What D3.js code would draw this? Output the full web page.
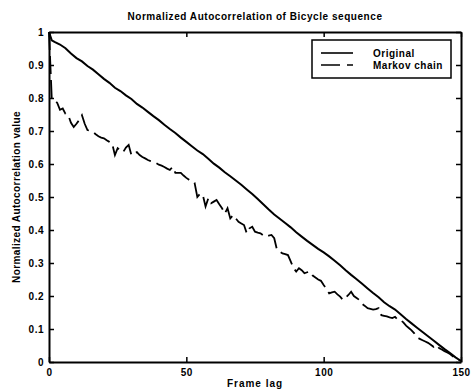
<!DOCTYPE html>
<html lang="en">
<head>
    <meta charset="UTF-8">
    <title>Normalized Autocorrelation of Bicycle sequence</title>
    <script src="https://cdn.jsdelivr.net/npm/d3@7/dist/d3.min.js"></script>
    <style>
        body{
            margin: 0;
            background: #fff;
        }
        text{
            font-family: "Liberation Sans", Arial, sans-serif;
            font-weight: bold;
        }
    </style>
</head>
<body>
<svg id="main" width="473" height="392"></svg>
<script>

    // lag values and autocorrelation
    const lagOriginal = [0, 1, 2, 4, 6, 8, 10, 12, 14, 16, 18, 20, 22, 24, 26, 28, 30, 32, 34, 36, 38,
        40, 42, 44, 46, 48, 50, 52, 54, 56, 58, 60, 62, 64, 66, 68, 70, 72, 74, 76, 78,
        80, 82, 84, 86, 88, 90, 92, 94, 96, 98, 100, 102, 104, 106, 108, 110, 112, 114, 116, 118,
        120, 122, 124, 126, 128, 130, 132, 134, 136, 138, 140, 142, 144, 146, 148, 150];
    const original = [1.000, 0.975, 0.970, 0.962, 0.951, 0.935, 0.921, 0.911, 0.897, 0.886, 0.872,
        0.858, 0.846, 0.831, 0.821, 0.808, 0.797, 0.782, 0.771, 0.758, 0.745,
        0.733, 0.719, 0.706, 0.694, 0.680, 0.667, 0.654, 0.641, 0.630, 0.616,
        0.601, 0.589, 0.575, 0.563, 0.550, 0.537, 0.523, 0.509, 0.494, 0.478,
        0.462, 0.447, 0.434, 0.421, 0.408, 0.393, 0.380, 0.367, 0.355, 0.343,
        0.332, 0.320, 0.307, 0.293, 0.278, 0.264, 0.251, 0.237, 0.223, 0.209,
        0.196, 0.181, 0.169, 0.159, 0.145, 0.130, 0.117, 0.104, 0.091, 0.078,
        0.065, 0.052, 0.039, 0.027, 0.014, 0.003];

    const lagMarkov = d3.range(0, 151);   // one value per frame lag
    const markov = [1.000, 0.800, 0.794, 0.785, 0.764, 0.768, 0.752, 0.748, 0.725, 0.712,
        0.722, 0.733, 0.748, 0.722, 0.703, 0.700, 0.697, 0.690, 0.684, 0.680,
        0.678, 0.672, 0.667, 0.662, 0.627, 0.648, 0.641, 0.636, 0.650, 0.658,
        0.627, 0.632, 0.636, 0.627, 0.621, 0.617, 0.612, 0.609, 0.606, 0.603,
        0.598, 0.595, 0.591, 0.586, 0.582, 0.591, 0.573, 0.573, 0.573, 0.565,
        0.558, 0.552, 0.547, 0.543, 0.500, 0.510, 0.506, 0.471, 0.496, 0.481,
        0.486, 0.491, 0.478, 0.466, 0.450, 0.466, 0.435, 0.445, 0.435, 0.425,
        0.420, 0.415, 0.390, 0.405, 0.410, 0.395, 0.392, 0.390, 0.384, 0.380,
        0.383, 0.385, 0.375, 0.340, 0.335, 0.329, 0.327, 0.324, 0.305, 0.285,
        0.274, 0.284, 0.278, 0.269, 0.272, 0.274, 0.262, 0.256, 0.250, 0.246,
        0.233, 0.222, 0.208, 0.211, 0.213, 0.205, 0.198, 0.188, 0.195, 0.203,
        0.213, 0.200, 0.194, 0.188, 0.176, 0.170, 0.163, 0.161, 0.159, 0.160,
        0.163, 0.142, 0.140, 0.138, 0.135, 0.133, 0.137, 0.128, 0.127, 0.120,
        0.110, 0.103, 0.096, 0.087, 0.075, 0.070, 0.066, 0.062, 0.058, 0.052,
        0.046, 0.052, 0.042, 0.038, 0.033, 0.029, 0.024, 0.017, 0.012, 0.008,
        0.003];

    const xTicks = [0, 50, 100, 150];
    const yTicks = [0, 0.1, 0.2, 0.3, 0.4, 0.5, 0.6, 0.7, 0.8, 0.9, 1];
    const seriesNames = ['Original', 'Markov chain'];

    const margin = {top: 32, right: 12, bottom: 30, left: 49};
    const width = 473, height = 392;

    const svg = d3.select('svg#main');

    const x = d3.scaleLinear().domain([0, 150]).range([margin.left, width - margin.right]);
    const y = d3.scaleLinear().domain([0, 1]).range([height - margin.bottom, margin.top]);

    // axes, ticks pointing inward like matlab
    const fmt = d3.format('~g');
    svg.append('g')
        .attr('transform', `translate(0,${y(0)})`)
        .call(d3.axisBottom(x).tickValues(xTicks).tickSizeInner(-5).tickSizeOuter(0).tickPadding(7).tickFormat(fmt));
    svg.append('g')
        .attr('transform', `translate(${x(0)},0)`)
        .call(d3.axisLeft(y).tickValues(yTicks).tickSizeInner(-5).tickSizeOuter(0).tickPadding(5).tickFormat(fmt));
    svg.append('g')
        .attr('transform', `translate(0,${y(1)})`)
        .call(d3.axisTop(x).tickValues(xTicks).tickSizeInner(-5).tickSizeOuter(0).tickFormat(''));
    svg.append('g')
        .attr('transform', `translate(${x(150)},0)`)
        .call(d3.axisRight(y).tickValues(yTicks).tickSizeInner(-5).tickSizeOuter(0).tickFormat(''));

    svg.selectAll('.domain').attr('stroke', '#000').attr('stroke-width', 2);
    svg.selectAll('.tick line').attr('stroke', '#000').attr('stroke-width', 1.5);
    svg.selectAll('.tick text').attr('fill', '#000').attr('font-size', 10)
        .attr('letter-spacing', 0.5)
        .attr('font-weight', 'bold').attr('font-family', '"Liberation Sans", Arial, sans-serif');

    // lines
    const line = d3.line()
        .x(d => x(d[0]))
        .y(d => y(d[1]));

    svg.append('path')
        .datum(lagOriginal.map((l, i) => [l, original[i]]))
        .attr('fill', 'none')
        .attr('stroke', '#000')
        .attr('stroke-width', 2)
        .attr('d', line);

    svg.append('path')
        .datum(lagMarkov.map((l, i) => [l, markov[i]]))
        .attr('fill', 'none')
        .attr('stroke', '#000')
        .attr('stroke-width', 1.8)
        .attr('stroke-dasharray', '18,6')
        .attr('d', line);

    // title and labels
    svg.append('text')
        .attr('x', (x(0) + x(150)) / 2)
        .attr('y', 20)
        .attr('text-anchor', 'middle')
        .attr('font-size', 10)
        .attr('letter-spacing', 0.55)
        .text('Normalized Autocorrelation of Bicycle sequence');

    svg.append('text')
        .attr('x', (x(0) + x(150)) / 2)
        .attr('y', 387)
        .attr('text-anchor', 'middle')
        .attr('font-size', 10)
        .attr('letter-spacing', 1)
        .text('Frame lag');

    svg.append('text')
        .attr('transform', `translate(20,${(y(0) + y(1)) / 2}) rotate(-90)`)
        .attr('text-anchor', 'middle')
        .attr('font-size', 10)
        .attr('letter-spacing', 0.4)
        .text('Normalized Autocorrelation value');

    // legend
    const lg = svg.append('g').attr('transform', 'translate(312,40)');
    lg.append('rect')
        .attr('width', 139).attr('height', 38)
        .attr('fill', '#fff').attr('stroke', '#000').attr('stroke-width', 1.5);
    seriesNames.forEach((name, i) => {
        lg.append('line')
            .attr('x1', 9).attr('x2', 41)
            .attr('y1', 13 + i * 12).attr('y2', 13 + i * 12)
            .attr('stroke', '#000').attr('stroke-width', 1.6)
            .attr('stroke-dasharray', i === 1 ? '19,7' : null);
        lg.append('text')
            .attr('x', 61).attr('y', 16.5 + i * 12)
            .attr('font-size', 10)
            .attr('letter-spacing', 0.5)
            .text(name);
    });

</script>
</body>
</html>
